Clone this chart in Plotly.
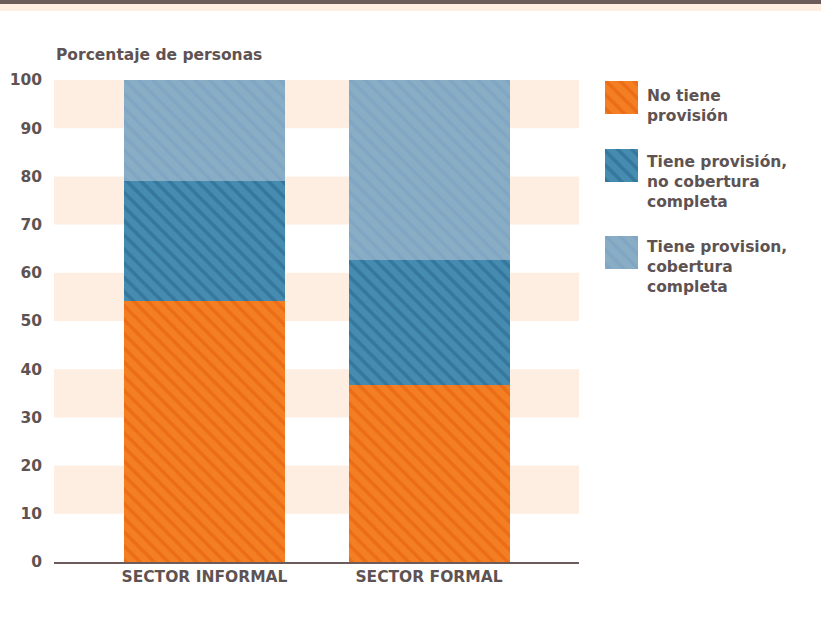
import plotly.graph_objects as go

# Data
categories = ["SECTOR INFORMAL", "SECTOR FORMAL"]
series_names = [
    "No tiene<br>provisión",
    "Tiene provisión,<br>no cobertura<br>completa",
    "Tiene provision,<br>cobertura<br>completa",
]
no_provision = [54.2, 36.8]
provision_incompleta = [24.8, 25.9]
provision_completa = [21.0, 37.3]
y_ticks = [0, 10, 20, 30, 40, 50, 60, 70, 80, 90, 100]

series_values = [no_provision, provision_incompleta, provision_completa]
fill_colors = ["#F47F22", "#468CB0", "#8AADC6"]
line_colors = ["#E35A0C", "#25638A", "#74A0BF"]

TEXT = "#5E5352"
FONT = "DejaVu Sans"
W, H = 821, 617
L, R, T, B = 54, 10, 80, 55
plot_w = W - L - R
plot_h = H - T - B
main_frac = 525 / plot_w

fig = go.Figure()

for name, vals, fc, lc in zip(series_names, series_values, fill_colors, line_colors):
    fig.add_trace(go.Bar(
        x=categories, y=vals, name=name, width=0.717,
        marker=dict(color=fc, line=dict(width=0),
                    pattern=dict(shape="\\", fgcolor=lc, size=10, solidity=0.35,
                                 fillmode="overlay")),
        showlegend=False, hoverinfo="y",
    ))

# Legend swatches on their own small axis, in pixel units
sw_top = [81, 149, 236]
sw_h = 32.5
for i, (fc, lc) in enumerate(zip(fill_colors, line_colors)):
    fig.add_trace(go.Bar(
        x=[0.5], y=[sw_h], base=[sw_top[i]], width=1,
        xaxis="x2", yaxis="y2", showlegend=False, hoverinfo="skip",
        marker=dict(color=fc, line=dict(width=0),
                    pattern=dict(shape="\\", fgcolor=lc, size=10, solidity=0.35,
                                 fillmode="overlay")),
    ))

label_y = [106, 182, 267]
for name, yc in zip(series_names, label_y):
    fig.add_annotation(
        x=(645 - L) / plot_w, xref="paper", xanchor="left",
        y=(H - B - yc) / plot_h, yref="paper", yanchor="middle",
        text=name, showarrow=False, align="left",
        font=dict(family=FONT, size=15.5, color=TEXT, weight=700),
    )

# Alternating background bands
shapes = []
for lo in range(10, 100, 20):
    shapes.append(dict(type="rect", xref="x domain", yref="y",
                       x0=0, x1=1, y0=lo, y1=lo + 10,
                       fillcolor="#FDEEE1", line=dict(width=0), layer="below"))

# Header strip
px2py = lambda p: (H - B - p) / plot_h
shapes.append(dict(type="rect", xref="paper", yref="paper", x0=-0.2, x1=1.2,
                   y0=px2py(11), y1=px2py(4), fillcolor="#FDEEE1",
                   line=dict(width=0)))
shapes.append(dict(type="rect", xref="paper", yref="paper", x0=-0.2, x1=1.2,
                   y0=px2py(4), y1=px2py(-2), fillcolor="#6B5B5B",
                   line=dict(width=0)))

fig.add_annotation(
    x=0, xref="paper", xanchor="left", y=px2py(55), yref="paper",
    yanchor="middle", text="Porcentaje de personas", showarrow=False,
    font=dict(family=FONT, size=15.5, color=TEXT, weight=700),
)

fig.update_layout(
    width=W, height=H,
    margin=dict(l=L, r=R, t=T, b=B),
    paper_bgcolor="white", plot_bgcolor="white",
    barmode="stack", bargap=0,
    shapes=shapes,
    font=dict(family=FONT, color=TEXT),
    xaxis=dict(domain=[0, main_frac], range=[-0.670, 1.668],
               showgrid=False, zeroline=False, showline=True,
               linecolor="#6B5B5B", linewidth=1.5, ticks="",
               tickfont=dict(family=FONT, size=15.5, color=TEXT, weight=700)),
    yaxis=dict(range=[0, 100], tickvals=y_ticks, showgrid=False,
               zeroline=False, showline=False, ticks="",
               ticklabelstandoff=11,
               tickfont=dict(family=FONT, size=15.5, color=TEXT, weight=700)),
    xaxis2=dict(domain=[(605 - L) / plot_w, (638 - L) / plot_w],
                range=[0, 1], visible=False, anchor="y2", fixedrange=True),
    yaxis2=dict(domain=[0, 1], range=[H - B, T], visible=False,
                anchor="x2", fixedrange=True),
)

fig.write_html("out.html")
